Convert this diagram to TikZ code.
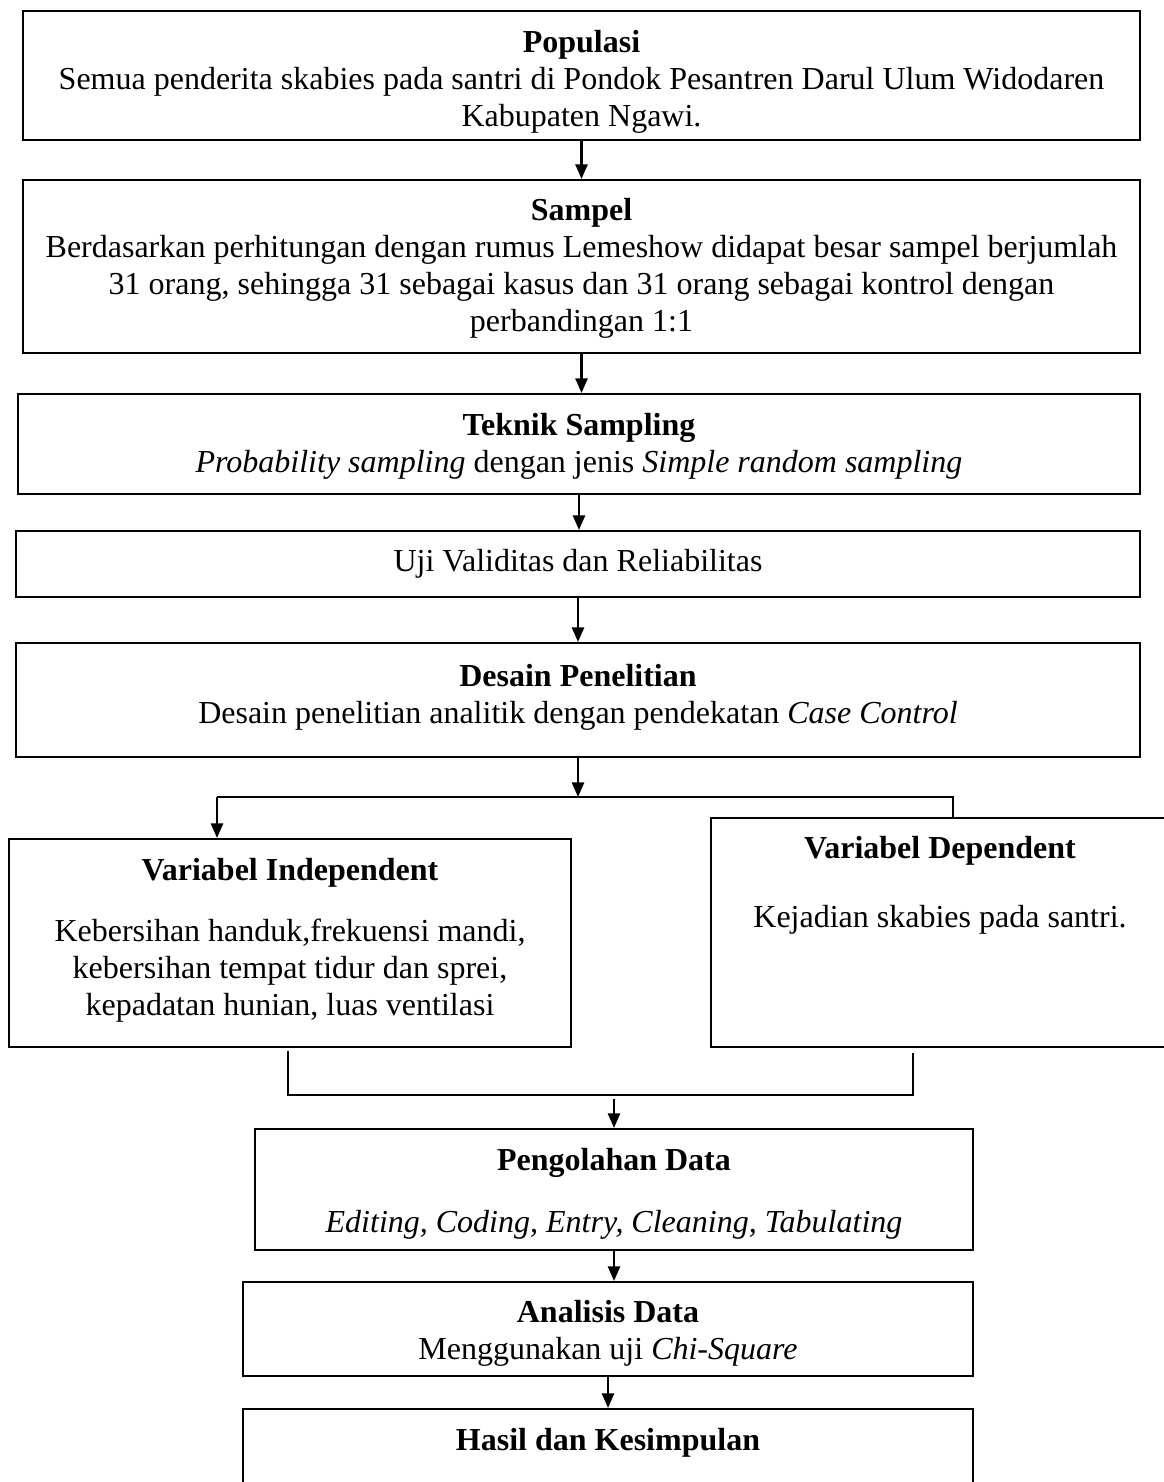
\documentclass[tikz,border=0pt]{standalone}
\usepackage{fontspec}
\setmainfont{Liberation Serif}
\usetikzlibrary{arrows.meta, positioning, fit}

\begin{document}
\begin{tikzpicture}[
    x=0.375pt, y=-0.375pt,
    box/.style={draw, line width=0.8pt, inner sep=0pt},
    txt/.style={inner sep=0pt, align=center, anchor=north, font=\fontsize{12}{13.8}\selectfont},
    arrow/.style={-{Triangle[length=5.5pt, width=4.6pt]}, line width=0.8pt},
    line/.style={line width=0.8pt}
]
    \useasboundingbox (0,0) rectangle (1163,1482);

    \node[box, fit={(23,11) (1140,140)}] (pop) {};
    \node[txt] (poptxt) at (581.5,30) {\textbf{Populasi}\\ Semua penderita skabies pada santri di Pondok Pesantren Darul Ulum Widodaren\\ Kabupaten Ngawi.};
    \node[box, fit={(23,180) (1140,353)}] (smp) {};
    \node[txt] (smptxt) at (581.5,198) {\textbf{Sampel}\\ Berdasarkan perhitungan dengan rumus Lemeshow didapat besar sampel berjumlah\\ 31 orang, sehingga 31 sebagai kasus dan 31 orang sebagai kontrol dengan\\ perbandingan 1:1};
    \node[box, fit={(18,394) (1140,494)}] (tek) {};
    \node[txt] (tektxt) at (579,413) {\textbf{Teknik Sampling}\\ \textit{Probability sampling} dengan jenis \textit{Simple random sampling}};
    \node[box, fit={(16,531) (1140,597)}] (uji) {};
    \node[txt, anchor=center] (ujitxt) at (uji.center) {Uji Validitas dan Reliabilitas};
    \node[box, fit={(16,643) (1140,757)}] (des) {};
    \node[txt] (destxt) at (578,664) {\textbf{Desain Penelitian}\\ Desain penelitian analitik dengan pendekatan \textit{Case Control}};

    \node[box, fit={(9,839) (571,1047)}] (ind) {};
    \node[txt] (indtxt) at (290,858) {\textbf{Variabel Independent}\\[9pt] Kebersihan handuk,frekuensi mandi,\\ kebersihan tempat tidur dan sprei,\\ kepadatan hunian, luas ventilasi};
    \node[box, fit={(711,818) (1169,1047)}] (dep) {};
    \node[txt] (deptxt) at (940,836) {\textbf{Variabel Dependent}\\[12pt] Kejadian skabies pada santri.};

    \node[box, fit={(255,1129) (973,1250)}] (peng) {};
    \node[txt] (pengtxt) at (614,1148) {\textbf{Pengolahan Data}\\[9.5pt] \textit{Editing, Coding, Entry, Cleaning, Tabulating}};
    \node[box, fit={(243,1282) (973,1376)}] (ana) {};
    \node[txt] (anatxt) at (608,1300) {\textbf{Analisis Data}\\ Menggunakan uji \textit{Chi-Square}};
    \node[box, fit={(243,1409) (973,1520)}] (has) {};
    \node[txt] (hastxt) at (608,1428) {\textbf{Hasil dan Kesimpulan}};

    \coordinate (sl) at (217,797);
    \coordinate (sr) at (953,797);
    \coordinate (mlt) at (288,1051);
    \coordinate (ml) at (288,1095);
    \coordinate (mrt) at (913,1053);
    \coordinate (mr) at (913,1095);
    \coordinate (mc) at (614,1099);

    \draw[arrow] (pop.south) -- (pop.south |- smp.north);
    \draw[arrow] (smp.south) -- (smp.south |- tek.north);
    \draw[arrow] (tek.south) -- (tek.south |- uji.north);
    \draw[arrow] (uji.south) -- (uji.south |- des.north);
    \draw[arrow] (des.south) -- (des.south |- sl);
    \draw[line] (dep.north -| sr) -- (sr) -- (sl);
    \draw[arrow] (sl) -- (sl |- ind.north);
    \draw[line] (mlt) -- (ml) -- (mr) -- (mrt);
    \draw[arrow] (mc) -- (mc |- peng.north);
    \draw[arrow] (peng.south) -- (peng.south |- ana.north);
    \draw[arrow] (ana.south) -- (ana.south |- has.north);
\end{tikzpicture}
\end{document}
